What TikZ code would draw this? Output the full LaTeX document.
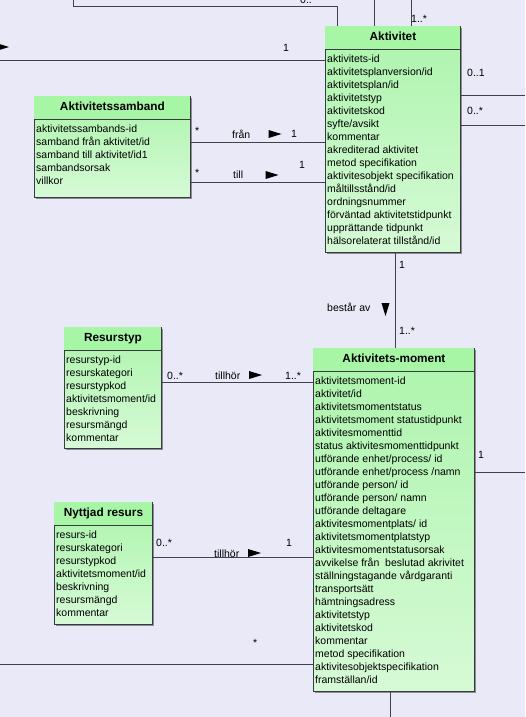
\documentclass[tikz,border=0pt]{standalone}
\usepackage{fontspec}
\setmainfont{Liberation Sans}
\usepackage{tikz}
\usetikzlibrary{positioning, shapes.geometric, shadows}
\definecolor{umlbg}{HTML}{E9E9F7}
\definecolor{umlhead}{HTML}{A6F6A6}
\definecolor{umltop}{HTML}{ACF4AC}
\definecolor{umlpale}{HTML}{D6FAD6}
\definecolor{umledge}{HTML}{3A3A44}
\definecolor{umlline}{HTML}{40404E}

\begin{document}
\begin{tikzpicture}[x=1pt, y=-1pt,
  classbox/.style={rectangle, draw=umledge, line width=0.9pt,
                   top color=umltop, bottom color=umlpale,
                   anchor=north west, inner sep=0pt,
                   drop shadow={shadow xshift=2pt, shadow yshift=-2pt,
                                fill=black!60, opacity=0.7}},
  classtitle/.style={anchor=base, inner sep=0pt, text=black,
                     font=\fontsize{11.8}{13}\selectfont\bfseries},
  attr/.style={anchor=base west, inner sep=0pt, text=black,
               font=\fontsize{10.5}{13}\selectfont},
  role/.style={anchor=base west, inner sep=0pt, text=black,
               font=\fontsize{10.5}{13}\selectfont},
  assoc/.style={draw=umlline, line width=0.9pt},
  dirtri/.style={isosceles triangle, isosceles triangle stretches,
                 fill=black, draw=none, inner sep=0pt,
                 minimum width=8pt, minimum height=13pt}
]
\path[use as bounding box, fill=umlbg] (0,0) rectangle (525,717);
\clip (0,0) rectangle (525,717);

% classes
\foreach \n/\x/\y/\w/\h/\t/\rows in {%
  akt/325/26/135/226/Aktivitet/{aktivitets-id, aktivitetsplanversion/id,
    aktivitetsplan/id, aktivitetstyp, aktivitetskod, syfte/avsikt, kommentar,
    akrediterad aktivitet, metod specifikation, aktivitesobjekt specifikation,
    måltillsstånd/id, ordningsnummer, förväntad aktivitetstidpunkt,
    upprättande tidpunkt, hälsorelaterat tillstånd/id},%
  sam/34/96/156/101/Aktivitetssamband/{aktivitetssambands-id,
    samband från aktivitet/id, samband till aktivitet/id1, sambandsorsak,
    villkor},%
  res/64/327/97/121/Resurstyp/{resurstyp-id, resurskategori, resurstypkod,
    aktivitetsmoment/id, beskrivning, resursmängd, kommentar},%
  mom/313/348/161/343/Aktivitets-moment/{aktivitetsmoment-id, aktivitet/id,
    aktivitetsmomentstatus, aktivitetsmoment statustidpunkt,
    aktivitesmomenttid, status aktivitesmomenttidpunkt,
    utförande enhet/process/ id, utförande enhet/process /namn,
    utförande person/ id, utförande person/ namn, utförande deltagare,
    aktivitesmomentplats/ id, aktivitetsmomentplatstyp,
    aktivitesmomentstatusorsak, avvikelse från~ beslutad akrivitet,
    ställningstagande vårdgaranti, transportsätt, hämtningsadress,
    aktivitetstyp, aktivitetskod, kommentar, metod specifikation,
    aktivitesobjektspecifikation, framställan/id},%
  nyt/54/502/98/122/Nyttjad resurs/{resurs-id, resurskategori, resurstypkod,
    aktivitetsmoment/id, beskrivning, resursmängd, kommentar}%
} {
  \node[classbox, minimum width=\w pt, minimum height=\h pt] (\n) at (\x,\y) {};
  \fill[umlhead] ([shift={(0.45pt,-0.45pt)}]\n.north west)
    rectangle ([shift={(-0.45pt,-23pt)}]\n.north east);
  \draw[assoc, draw=umledge] ([yshift=-23pt]\n.north west) -- ([yshift=-23pt]\n.north east);
  \node[classtitle] (\n-t) at ([yshift=-14.5pt]\n.north) {\t};
  \foreach \a [count=\i from 0] in \rows {
    \pgfmathsetmacro{\yy}{\y+36.5+\i*13}
    \node[attr] (\n-\i) at (\x+2,\yy) {\a};
  }
}

% free ends
\coordinate (topbend) at (73,6);
\coordinate (topend) at (73,0);
\coordinate (top2) at (374,0);
\coordinate (top3) at (411,0);
\coordinate (left1) at (0,60);
\coordinate (left2) at (0,664);
\coordinate (right1) at (525,95);
\coordinate (right2) at (525,125);
\coordinate (right3) at (525,472);
\coordinate (bot1) at (390,717);

% associations
\draw[assoc] ([xshift=12pt]akt.north west) |- (topbend) -- (topend);
\draw[assoc] (top2 |- akt.north) -- (top2);
\draw[assoc] (top3 |- akt.north) -- (top3);
\draw[assoc] (left1) -- (left1 -| akt.west);
\draw[assoc] (right1 -| akt.east) -- (right1);
\draw[assoc] (right2 -| akt.east) -- (right2);
\draw[assoc] ([yshift=5pt]sam.east) -- ([yshift=5pt]sam.east -| akt.west);
\draw[assoc] ([yshift=-35pt]sam.east) -- ([yshift=-35pt]sam.east -| akt.west);
\draw[assoc] ([xshift=2.5pt]akt.south) -- ([xshift=2.5pt]akt.south |- mom.north);
\draw[assoc] ([yshift=5.5pt]res.east) -- ([yshift=5.5pt]res.east -| mom.west);
\draw[assoc] ([yshift=6pt]nyt.east) -- ([yshift=6pt]nyt.east -| mom.west);
\draw[assoc] (right3 -| mom.east) -- (right3);
\draw[assoc] (bot1 |- mom.south) -- (bot1);
\draw[assoc] (left2) -- (left2 -| mom.west);

% labels
\node[role] (top-m) at (300,4) {0..*};
\node[role] (top-r) at (411,23) {1..*};
\node[role] (left-r) at (283,52) {1};
\node[dirtri] (left-p) at (-1,47) {};
\node[role] (right-r1) at (467,76) {0..1};
\node[role] (right-r2) at (467,114) {0..*};
\node[role] (fran-s) at (195,134) {*};
\node[role] (fran-l) at (232,138) {från};
\node[dirtri] (fran-p) at (271.5,134) {};
\node[role] (fran-e) at (291,137) {1};
\node[role] (till-s) at (195,176) {*};
\node[role] (till-l) at (233,178) {till};
\node[dirtri] (till-p) at (268.5,175) {};
\node[role] (till-e) at (299,168) {1};
\node[role] (best-s) at (399,268) {1};
\node[role] (best-l) at (327,311) {består av};
\node[dirtri, shape border rotate=-90] (best-p) at (385.5,306) {};
\node[role] (best-e) at (399,334) {1..*};
\node[role] (rtyp-s) at (167,379) {0..*};
\node[role] (rtyp-l) at (215,379) {tillhör};
\node[dirtri] (rtyp-p) at (252,375) {};
\node[role] (rtyp-e) at (285,379) {1..*};
\node[role] (right-r3) at (478,458) {1};
\node[role] (nres-s) at (156,546) {0..*};
\node[role] (nres-l) at (214,557) {tillhör};
\node[dirtri] (nres-p) at (251,553) {};
\node[role] (nres-e) at (286,546) {1};
\node[role] (left-s2) at (253,646) {*};
\end{tikzpicture}
\end{document}
